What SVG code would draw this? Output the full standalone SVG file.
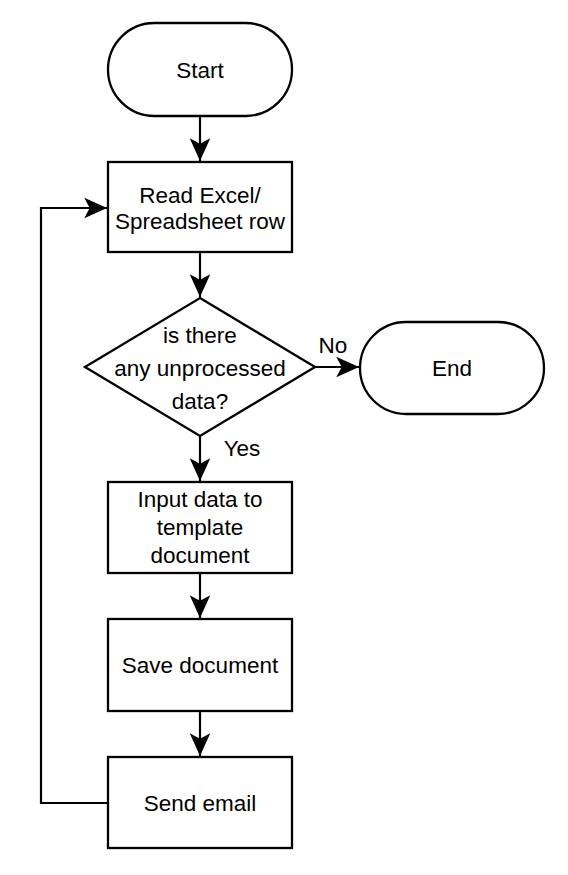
<svg xmlns="http://www.w3.org/2000/svg" width="568" height="875" viewBox="0 0 568 875">
<defs>
<marker id="arr" markerUnits="userSpaceOnUse" markerWidth="26" markerHeight="26" viewBox="-1 -11 24 22" refX="21" refY="0" orient="auto">
<path d="M0,-9.5 L21,0 L0,9.5 L5,0 Z" fill="#000"/>
</marker>
<style>
.s{fill:#fff;stroke:#000;stroke-width:2.3}
.t{font-family:"Liberation Sans",Arial,sans-serif;font-size:22.5px;fill:#000;text-anchor:middle}
.c{fill:none;stroke:#000;stroke-width:2.2}
</style>
</defs>
<rect width="568" height="875" fill="#fff"/>
<g id="connectors">
<path class="c" d="M200,116 V161" marker-end="url(#arr)"/>
<path class="c" d="M200,252 V297" marker-end="url(#arr)"/>
<path class="c" d="M315,367 H359" marker-end="url(#arr)"/>
<path class="c" d="M200,436 V481" marker-end="url(#arr)"/>
<path class="c" d="M200,573 V618" marker-end="url(#arr)"/>
<path class="c" d="M200,711 V756" marker-end="url(#arr)"/>
<path class="c" d="M108,803 H41 V208 H107" marker-end="url(#arr)"/>
<text class="t" x="333" y="352.5">No</text>
<text class="t" x="242" y="455.5">Yes</text>
</g>
<g id="start">
<rect class="s" x="108" y="23" width="184" height="93" rx="46.5"/>
<text class="t" x="200" y="78">Start</text>
</g>
<g id="read">
<rect class="s" x="108" y="162" width="184" height="90"/>
<text class="t" x="200" y="202.5">Read Excel/</text>
<text class="t" x="200" y="228.5">Spreadsheet row</text>
</g>
<g id="decision">
<polygon class="s" points="200,298 315,367 200,436 85,367"/>
<text class="t" x="200" y="343">is there</text>
<text class="t" x="200" y="376">any unprocessed</text>
<text class="t" x="200" y="409">data?</text>
</g>
<g id="end">
<rect class="s" x="360" y="322" width="184" height="92" rx="46"/>
<text class="t" x="452" y="376">End</text>
</g>
<g id="input">
<rect class="s" x="108" y="482" width="184" height="91"/>
<text class="t" x="200" y="507">Input data to</text>
<text class="t" x="200" y="535">template</text>
<text class="t" x="200" y="563">document</text>
</g>
<g id="save">
<rect class="s" x="108" y="619" width="184" height="92"/>
<text class="t" x="200" y="673">Save document</text>
</g>
<g id="send">
<rect class="s" x="108" y="757" width="184" height="91"/>
<text class="t" x="200" y="811">Send email</text>
</g>
</svg>
